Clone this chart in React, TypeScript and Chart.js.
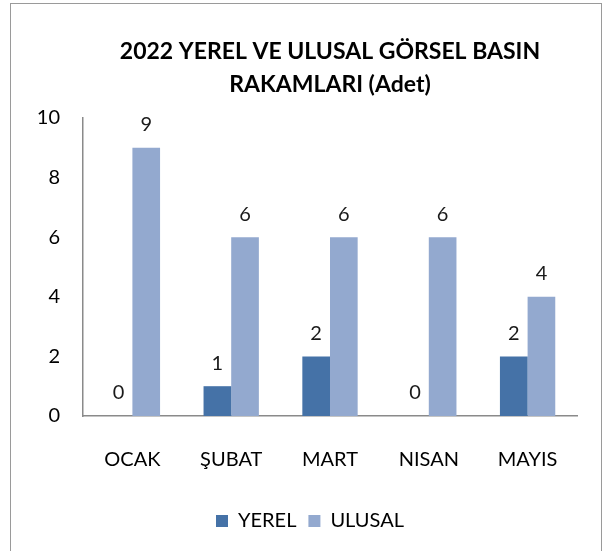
import React, { useEffect, useRef } from "react";
import { Chart, registerables } from "chart.js";

Chart.register(...registerables);

const categories = ["OCAK", "ŞUBAT", "MART", "NISAN", "MAYIS"];
const yerelValues = [0, 1, 2, 0, 2];
const ulusalValues = [9, 6, 6, 6, 4];
const titleLines = ["2022 YEREL VE ULUSAL GÖRSEL BASIN", "RAKAMLARI (Adet)"];

const FONT = "Lato, 'Noto Sans', sans-serif";

const valueLabels = {
  id: "valueLabels",
  afterDatasetsDraw(chart: any) {
    const ctx = chart.ctx;
    ctx.save();
    ctx.font = `20px ${FONT}`;
    ctx.fillStyle = "#1a1a1a";
    ctx.textAlign = "center";
    ctx.textBaseline = "middle";
    chart.data.datasets.forEach((ds: any, i: number) => {
      const meta = chart.getDatasetMeta(i);
      meta.data.forEach((el: any, j: number) => {
        ctx.fillText(String(ds.data[j]), el.x, el.y - 23);
      });
    });
    ctx.restore();
  },
};

export default function App() {
  const ref = useRef<HTMLCanvasElement>(null);
  useEffect(() => {
    if (!ref.current) return;
    const chart = new Chart(ref.current, {
      type: "bar",
      data: {
        labels: categories,
        datasets: [
          { label: "YEREL", data: yerelValues, backgroundColor: "#4572A7" },
          { label: "ULUSAL", data: ulusalValues, backgroundColor: "#93A9CF" },
        ],
      },
      options: {
        animation: false,
        responsive: false,
        devicePixelRatio: 1,
        layout: { padding: { left: 17, right: 0, top: 0, bottom: 10 } },
        datasets: { bar: { categoryPercentage: 0.56, barPercentage: 1 } },
        plugins: {
          title: {
            display: true,
            text: titleLines,
            fullSize: false,
            color: "#000",
            font: { family: FONT, size: 23, weight: "bold", lineHeight: "33px" },
            padding: { top: 35.5, bottom: 16.5 },
          },
          legend: {
            position: "bottom",
            labels: {
              color: "#000",
              font: { family: FONT, size: 20 },
              boxWidth: 12,
              boxHeight: 12,
              padding: 12,
            },
          },
          tooltip: { enabled: false },
        },
        scales: {
          x: {
            grid: { display: false, drawTicks: false },
            border: { display: true, color: "#8a8a8a", width: 1.5 },
            ticks: { color: "#000", font: { family: FONT, size: 20 }, padding: 32 },
            afterFit: (s: any) => { s.height = 83; },
          },
          y: {
            min: 0,
            max: 10,
            grid: { display: false, drawTicks: false },
            border: { display: true, color: "#8a8a8a", width: 1.5 },
            ticks: { stepSize: 2, color: "#000", font: { family: FONT, size: 20 }, padding: 23 },
            afterFit: (s: any) => { s.width = 66; },
          },
          y2: {
            position: "right",
            display: true,
            min: 0,
            max: 10,
            grid: { display: false, drawTicks: false },
            border: { display: false },
            ticks: { display: false },
            afterFit: (s: any) => { s.width = 26; },
          },
        },
      },
      plugins: [valueLabels],
    });
    return () => chart.destroy();
  }, []);
  return (
    <div style={{ position: "fixed", left: 0, top: 0, width: 603, height: 551, background: "#fff", overflow: "hidden" }}>
      <canvas ref={ref} width={603} height={551} style={{ position: "absolute", left: 0, top: 0, width: 603, height: 551 }} />
      <div style={{ position: "absolute", left: 10, top: 3, width: 590, height: 600, border: "1.5px solid #9a9a9a", pointerEvents: "none" }} />
    </div>
  );
}
